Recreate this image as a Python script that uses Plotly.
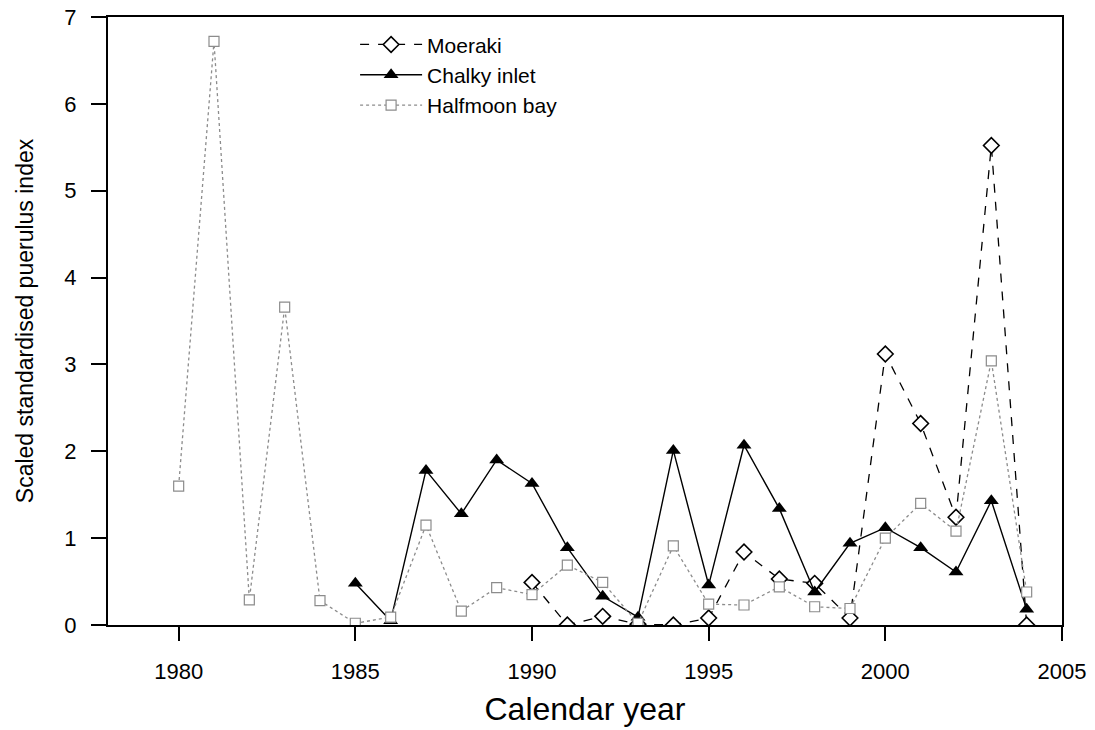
import plotly.graph_objects as go

# Puerulus settlement index by site and calendar year
years_halfmoon = list(range(1980, 2005))
halfmoon = [1.60, 6.72, 0.29, 3.66, 0.28, 0.02, 0.09, 1.15, 0.16, 0.43,
            0.35, 0.69, 0.49, 0.02, 0.91, 0.24, 0.23, 0.44, 0.21, 0.19,
            1.00, 1.40, 1.08, 3.04, 0.38]

years_chalky = list(range(1985, 2005))
chalky = [0.48, 0.05, 1.78, 1.28, 1.90, 1.63, 0.89, 0.33, 0.09, 2.01,
          0.46, 2.07, 1.34, 0.38, 0.94, 1.12, 0.89, 0.61, 1.43, 0.18]

years_moeraki = list(range(1990, 2005))
moeraki = [0.49, 0.00, 0.10, 0.01, 0.00, 0.08, 0.84, 0.53, 0.48, 0.08,
           3.12, 2.32, 1.24, 5.52, 0.00]

x_ticks = [1980, 1985, 1990, 1995, 2000, 2005]
y_ticks = [0, 1, 2, 3, 4, 5, 6, 7]

FONT = "Arial, Liberation Sans, sans-serif"

fig = go.Figure()

fig.add_trace(go.Scatter(
    x=years_moeraki, y=moeraki, name="Moeraki", mode="lines+markers",
    line=dict(color="black", width=1.3, dash="dash"),
    marker=dict(symbol="diamond", size=12, color="white",
                line=dict(width=1.6, color="black")),
    cliponaxis=True,
))

fig.add_trace(go.Scatter(
    x=years_chalky, y=chalky, name="Chalky inlet", mode="lines+markers",
    line=dict(color="black", width=1.4),
    marker=dict(symbol="triangle-up", size=13, color="black"),
    cliponaxis=True,
))

fig.add_trace(go.Scatter(
    x=years_halfmoon, y=halfmoon, name="Halfmoon bay", mode="lines+markers",
    line=dict(color="#8c8c8c", width=1.3, dash="dot"),
    marker=dict(symbol="square", size=10, color="white",
                line=dict(width=1.2, color="#8c8c8c")),
    cliponaxis=True,
))

fig.update_layout(
    width=1095, height=730,
    margin=dict(l=108, r=33, t=17, b=105),
    paper_bgcolor="white", plot_bgcolor="white",
    font=dict(family=FONT, color="black", size=22),
    showlegend=True,
    legend=dict(x=0.259, y=0.988, xanchor="left", yanchor="top",
                bgcolor="rgba(0,0,0,0)", font=dict(size=21),
                tracegroupgap=0, itemwidth=62),
    xaxis=dict(
        range=[1978, 2005], tickvals=x_ticks, automargin=False,
        ticks="outside", ticklen=14, tickwidth=1.5, tickcolor="black",
        showline=True, linecolor="black", linewidth=2, mirror=True,
        showgrid=False, zeroline=False, ticklabelstandoff=12,
        tickfont=dict(size=22),
        title=dict(text="Calendar year", font=dict(size=32), standoff=14),
    ),
    yaxis=dict(
        range=[0, 7], tickvals=y_ticks, automargin=False,
        ticks="outside", ticklen=15, tickwidth=1.5, tickcolor="black",
        showline=True, linecolor="black", linewidth=2, mirror=True,
        showgrid=False, zeroline=False, ticklabelstandoff=10,
        tickfont=dict(size=22),
        title=dict(text="Scaled standardised puerulus index", font=dict(size=23), standoff=24),
    ),
)

fig.write_html("out.html")
